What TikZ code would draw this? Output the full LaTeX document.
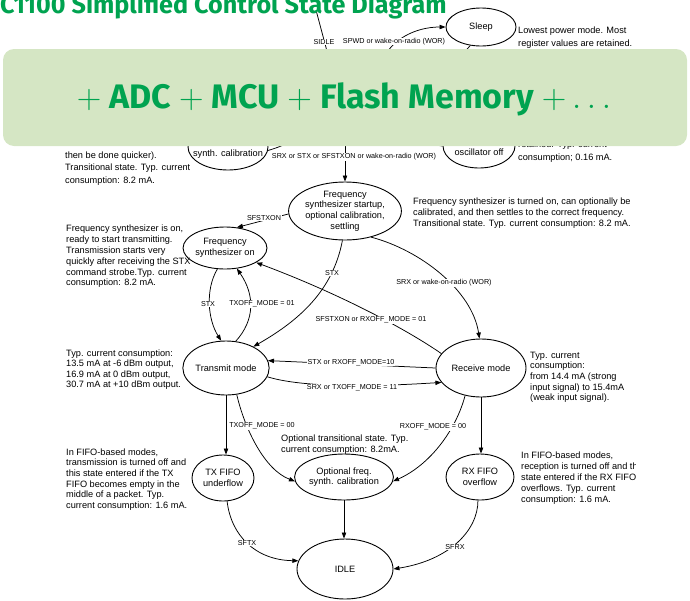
\RequirePackage{fix-cm}
\documentclass[tikz,border=0pt]{standalone}
\usepackage{fontspec}
\setmainfont{Liberation Sans}
\newfontfamily\headfont{Fira Sans}
\usetikzlibrary{shapes.geometric,arrows.meta}
\definecolor{slidegreen}{RGB}{0,163,80}
\definecolor{bannerfill}{RGB}{213,230,196}
\begin{document}
\begin{tikzpicture}[x=1pt,y=-1pt,
  state/.style={draw, ellipse, line width=0.9pt, inner sep=0pt, align=center,
                font=\fontsize{9.2}{10.6}\selectfont},
  stext/.style={inner sep=0pt, align=center, font=\fontsize{9.2}{10.6}\selectfont},
  desc/.style={anchor=north west, align=left, inner sep=0pt,
               font=\fontsize{9.2}{10.7}\selectfont},
  lbl/.style={fill=white, inner sep=0.5pt, font=\fontsize{7.2}{8}\selectfont},
  link/.style={line width=0.75pt},
  arr/.style={link, -{Triangle[length=6pt,width=4.4pt]}}]
\useasboundingbox (0,0) rectangle (690,600);

\begin{scope}
\clip (0,0) rectangle (635,600);

% ---------- states ----------
\node[state, minimum width=70pt, minimum height=38pt] (sleep) at (481,27) {Sleep};
\node[state, minimum width=80pt, minimum height=46pt] (cal) at (228,147) {};
\node[stext] (calt) at (228,154) {synth. calibration};
\node[state, minimum width=72pt, minimum height=44pt] (xoff) at (479,146) {};
\node[stext] (xofft) at (479,152) {oscillator off};
\node[state, minimum width=104pt, minimum height=58pt] (fss) at (345,211)
  {Frequency\\synthesizer startup,\\optional calibration,\\settling};
\node[state, minimum width=66pt, minimum height=42pt] (fson) at (225,248)
  {Frequency\\synthesizer on};
\node[state, minimum width=86pt, minimum height=54pt] (tx) at (226,368) {Transmit mode};
\node[state, minimum width=90pt, minimum height=58pt] (rx) at (481,368) {Receive mode};
\node[state, minimum width=62pt, minimum height=46pt] (txf) at (223,478) {TX FIFO\\underflow};
\node[state, minimum width=78pt, minimum height=46pt] (opt) at (344,477)
  {Optional freq.\\synth. calibration};
\node[state, minimum width=68pt, minimum height=46pt] (rxf) at (480,477) {RX FIFO\\overflow};
\node[state, minimum width=96pt, minimum height=60pt] (idle) at (345,569) {IDLE};

% ---------- free ends of the upper transitions ----------
\coordinate (sidleA) at (316,10);
\coordinate (sidleB) at (328,55);
\coordinate (spwdA) at (382,62);
\coordinate (sleepdn) at (450,68);
\coordinate (calup) at (320,118);
\coordinate (xoffin) at (405,125);
\coordinate (srxtop) at (345,120);

% ---------- transitions ----------
\draw[link] (sidleA) -- (sidleB);
\draw[arr] (spwdA) .. controls (390,40) and (415,27) .. (sleep.180);
\draw[link] (sleep.240) -- (sleepdn);
\draw[link] (cal.355) .. controls (290,144) and (305,135) .. (calup);
\draw[link] (xoffin) .. controls (425,138) and (435,146) .. (xoff.180);
\draw[arr] (srxtop) -- (fss.north);
\draw[arr] (fss.183) -- (fson.60);
\draw[arr] (fson.250) .. controls (205,290) and (208,320) .. (tx.100);
\draw[arr] (tx.70) .. controls (255,320) and (255,295) .. (fson.300);
\draw[arr] (fss.265) .. controls (333,290) and (300,320) .. (tx.38);
\draw[arr] (rx.160) .. controls (400,325) and (330,290) .. (fson.335);
\draw[arr] (fss.-45) .. controls (420,250) and (472,290) .. (rx.93);
\draw[arr] (rx.180) -- (tx.10);
\draw[arr] (tx.-12) .. controls (310,390) and (400,385) .. (rx.200);
\draw[arr] (tx.south) -- (tx.south |- txf.north);
\draw[arr] (tx.-68) .. controls (245,430) and (265,470) .. (opt.185);
\draw[arr] (opt.south) -- (opt.south |- idle.north);
\draw[arr] (txf.-80) .. controls (231,535) and (255,560) .. (idle.170);
\draw[arr] (rx.south) -- (rx.south |- rxf.north);
\draw[arr] (rx.-120) .. controls (456,430) and (430,465) .. (opt.-5);
\draw[arr] (rxf.-95) .. controls (478,530) and (450,560) .. (idle.east);

% ---------- transition labels ----------
\node[lbl] (lsidle) at (324,42) {SIDLE};
\node[lbl] (lspwd) at (394,41.5) {SPWD or wake-on-radio (WOR)};
\node[lbl] (lsrx) at (354,157) {SRX or STX or SFSTXON or wake-on-radio (WOR)};
\node[lbl] (lfstx) at (264,218) {SFSTXON};
\node[lbl] (lstxa) at (208,304) {STX};
\node[lbl] (ltxoa) at (262,304) {TXOFF\_MODE = 01};
\node[lbl] (lstxb) at (332,273) {STX};
\node[lbl] (lrxoa) at (371,320) {SFSTXON or RXOFF\_MODE = 01};
\node[lbl] (lwor) at (444,283) {SRX or wake-on-radio (WOR)};
\node[lbl] (lrxob) at (351,362.5) {STX or RXOFF\_MODE=10};
\node[lbl] (ltxob) at (352,388) {SRX or TXOFF\_MODE = 11};
\node[lbl] (ltxoc) at (262,426) {TXOFF\_MODE = 00};
\node[lbl] (lrxoc) at (433,427) {RXOFF\_MODE = 00};
\node[lbl] (lsftx) at (247,543) {SFTX};
\node[lbl] (lsfrx) at (455,547) {SFRX};

% ---------- state descriptions ----------
\node[desc, font=\fontsize{9.2}{13.5}\selectfont] (dsleep) at (518,26.5)
  {Lowest power mode. Most\\register values are retained.};
\node[desc, font=\fontsize{9.2}{13.5}\selectfont] (dxoff) at (518,140.5)
  {retained. Typ. current\\consumption; 0.16 mA.};
\node[desc, font=\fontsize{9.2}{12.5}\selectfont] (dcal) at (65,151.5)
  {then be done quicker).\\Transitional state. Typ. current\\consumption: 8.2 mA.};
\node[desc, font=\fontsize{9.2}{10.9}\selectfont] (dfss) at (413,197.5)
  {Frequency synthesizer is turned on, can optionally be\\calibrated, and then settles to the correct frequency.\\Transitional state. Typ. current consumption: 8.2 mA.};
\node[desc, font=\fontsize{9.2}{10.8}\selectfont] (dfson) at (66,225)
  {Frequency synthesizer is on,\\ready to start transmitting.\\Transmission starts very\\quickly after receiving the STX\\command strobe.Typ. current\\consumption: 8.2 mA.};
\node[desc, font=\fontsize{9.2}{10.4}\selectfont] (dtx) at (66,349.5)
  {Typ. current consumption:\\13.5 mA at -6 dBm output,\\16.9 mA at 0 dBm output,\\30.7 mA at +10 dBm output.};
\node[desc, font=\fontsize{9.2}{10.7}\selectfont] (drx) at (530,351.5)
  {Typ. current\\consumption:\\from 14.4 mA (strong\\input signal) to 15.4mA\\(weak input signal).};
\node[desc, font=\fontsize{9.2}{11}\selectfont] (dopt) at (281,434.5)
  {Optional transitional state. Typ.\\current consumption: 8.2mA.};
\node[desc, font=\fontsize{9.2}{10.6}\selectfont] (dtxf) at (66,448.5)
  {In FIFO-based modes,\\transmission is turned off and\\this state entered if the TX\\FIFO becomes empty in the\\middle of a packet. Typ.\\current consumption: 1.6 mA.};
\node[desc, font=\fontsize{9.2}{11}\selectfont] (drxf) at (521,451.5)
  {In FIFO-based modes,\\reception is turned off and the\\state entered if the RX FIFO\\overflows. Typ. current\\consumption: 1.6 mA.};
\end{scope}

% ---------- slide overlay ----------
\fill[bannerfill, rounded corners=11pt] (3,49) rectangle (687,146);
\node[text=slidegreen, inner sep=0pt, font=\headfont\bfseries\fontsize{34}{34}\selectfont]
  (banner) at (344,99) {$+$ ADC $+$ MCU $+$ Flash Memory $+ \ldots$};
\node[anchor=base west, inner sep=0pt, text=slidegreen,
      font=\headfont\bfseries\fontsize{25.2}{26}\selectfont]
  (title) at (0,13) {C1100 Simplified Control State Diagram};
\end{tikzpicture}
\end{document}
